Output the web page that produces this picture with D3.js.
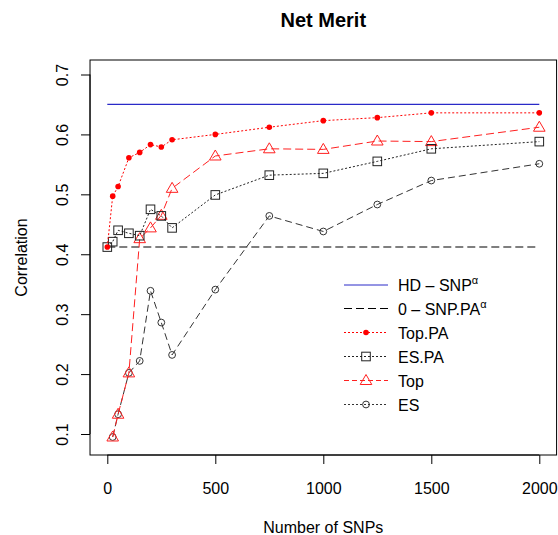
<!DOCTYPE html>
<html>
<head>
<meta charset="utf-8">
<script src="https://cdn.jsdelivr.net/npm/d3@7"></script>
<style>
  body { margin: 0; background: #fff; }
  text { font-family: "Liberation Sans", Arial, sans-serif; }
</style>
</head>
<body>
<script>
// data
const snps = [0, 25, 50, 100, 150, 200, 250, 300, 500, 750, 1000, 1250, 1500, 2000];
const snpsNoZero = snps.slice(1);
const hdSnp = 0.650;
const zeroSnpPA = 0.412;
const topPA = [0.412, 0.497, 0.513, 0.561, 0.570, 0.583, 0.579, 0.591, 0.600, 0.612, 0.623, 0.628, 0.636, 0.636];
const esPA = [0.412, 0.421, 0.440, 0.435, 0.431, 0.475, 0.464, 0.444, 0.499, 0.532, 0.535, 0.555, 0.576, 0.588];
const topSel = [0.095, 0.133, 0.202, 0.426, 0.444, 0.465, 0.510, 0.564, 0.576, 0.575, 0.589, 0.588, 0.612];
const esSel = [0.095, 0.133, 0.202, 0.222, 0.339, 0.286, 0.232, 0.341, 0.464, 0.438, 0.483, 0.523, 0.551];
const xTicks = [0, 500, 1000, 1500, 2000];
const yTicks = [0.1, 0.2, 0.3, 0.4, 0.5, 0.6, 0.7];

const W = 558, H = 535;
const svg = d3.select("body").append("svg")
  .attr("width", W).attr("height", H);

const x = d3.scaleLinear().domain([0, 2000]).range([107.3, 539.3]);
const y = d3.scaleLinear().domain([0.1, 0.7]).range([434, 74.5]);

const box = { x0: x(-80), x1: x(2080), y0: 60, y1: 455 };

// series
const line = d3.line().x(d => x(d[0])).y(d => y(d[1]));

svg.append("path")
  .attr("d", line([[0, hdSnp], [2000, hdSnp]]))
  .attr("stroke", "#2a2ac8").attr("fill", "none").attr("stroke-width", 1.2);

svg.append("path")
  .attr("d", line([[0, zeroSnpPA], [2000, zeroSnpPA]]))
  .attr("stroke", "#000").attr("fill", "none").attr("stroke-width", 1.1)
  .attr("stroke-dasharray", "8,4");

const series = [
  { name: "ES", xs: snpsNoZero, ys: esSel, color: "#333", dash: "7,4", shape: "circle" },
  { name: "Top", xs: snpsNoZero, ys: topSel, color: "#ff2020", dash: "8,4", shape: "triangle" },
  { name: "ES.PA", xs: snps, ys: esPA, color: "#222", dash: "2,2", shape: "square" },
  { name: "Top.PA", xs: snps, ys: topPA, color: "#ff0000", dash: "2,2", shape: "dot" },
];

function marker(g, shape, color) {
  if (shape === "circle") {
    g.append("circle").attr("r", 3.4).attr("fill", "none").attr("stroke", color).attr("stroke-width", 1);
  } else if (shape === "triangle") {
    g.append("path").attr("d", "M0,-6L5.8,4L-5.8,4Z")
      .attr("fill", "none").attr("stroke", color).attr("stroke-width", 1);
  } else if (shape === "square") {
    g.append("rect").attr("x", -4.3).attr("y", -4.3).attr("width", 8.6).attr("height", 8.6)
      .attr("fill", "none").attr("stroke", color).attr("stroke-width", 1);
  } else {
    g.append("circle").attr("r", 2.8).attr("fill", color);
  }
}

series.forEach(s => {
  const pts = s.xs.map((v, i) => [v, s.ys[i]]);
  svg.append("path").attr("d", line(pts))
    .attr("stroke", s.color).attr("fill", "none").attr("stroke-width", 1)
    .attr("stroke-dasharray", s.dash);
  pts.forEach(p => {
    const g = svg.append("g").attr("transform", `translate(${x(p[0])},${y(p[1])})`);
    marker(g, s.shape, s.color);
  });
});

// box
svg.append("rect")
  .attr("x", box.x0).attr("y", box.y0)
  .attr("width", box.x1 - box.x0).attr("height", box.y1 - box.y0)
  .attr("fill", "none").attr("stroke", "#000").attr("stroke-width", 1);

// axes
const xAxis = svg.append("g").attr("transform", `translate(0,${box.y1})`)
  .call(d3.axisBottom(x).tickValues(xTicks).tickSize(9).tickPadding(19).tickFormat(d3.format("d")));
xAxis.select(".domain").attr("d", `M${x(0)},0H${x(2000)}`);
xAxis.selectAll("text").attr("font-size", 16).attr("fill", "#000")
  .style("font-family", "'Liberation Sans', Arial, sans-serif");

const yAxis = svg.append("g").attr("transform", `translate(${box.x0},0)`)
  .call(d3.axisLeft(y).tickValues(yTicks).tickSize(9).tickFormat(d3.format(".1f")));
yAxis.select(".domain").attr("d", `M0,${y(0.1)}V${y(0.7)}`);
yAxis.selectAll(".tick text")
  .attr("font-size", 16).attr("fill", "#000")
  .style("font-family", "'Liberation Sans', Arial, sans-serif")
  .attr("text-anchor", "middle")
  .attr("x", 0).attr("y", 0).attr("dy", null)
  .attr("transform", "translate(-22,0) rotate(-90)");

// titles
svg.append("text").attr("x", (box.x0 + box.x1) / 2).attr("y", 27)
  .attr("text-anchor", "middle").attr("font-size", 20).attr("font-weight", "bold")
  .text("Net Merit");
svg.append("text").attr("x", (box.x0 + box.x1) / 2).attr("y", 533)
  .attr("text-anchor", "middle").attr("font-size", 16)
  .text("Number of SNPs");
svg.append("text").attr("transform", `translate(27,${(box.y0 + box.y1) / 2}) rotate(-90)`)
  .attr("text-anchor", "middle").attr("font-size", 16)
  .text("Correlation");

// legend
const legendItems = [
  { label: "HD \u2013 SNP", sup: "\u03b1", color: "#2a2ac8", dash: null, shape: null },
  { label: "0 \u2013 SNP.PA", sup: "\u03b1", color: "#000", dash: "8,4", shape: null },
  { label: "Top.PA", color: "#ff0000", dash: "2,2", shape: "dot" },
  { label: "ES.PA", color: "#222", dash: "2,2", shape: "square" },
  { label: "Top", color: "#ff2020", dash: "5,3", shape: "triangle" },
  { label: "ES", color: "#333", dash: "2,2", shape: "circle" },
];
const legendY = [285, 308.5, 332.5, 356.5, 380.5, 404.5];
legendItems.forEach((it, i) => {
  const g = svg.append("g").attr("transform", `translate(344,${legendY[i]})`);
  g.append("line").attr("x1", 0).attr("x2", 44).attr("y1", 0).attr("y2", 0)
    .attr("stroke", it.color).attr("stroke-width", 1)
    .attr("stroke-dasharray", it.dash);
  if (it.shape) {
    const m = g.append("g").attr("transform", "translate(22,0)");
    marker(m, it.shape, it.color);
  }
  const t = g.append("text").attr("x", 54).attr("y", 6).attr("font-size", 16).text(it.label);
  if (it.sup) {
    t.append("tspan").attr("font-size", 11).attr("dy", -7).text(it.sup);
  }
});
</script>
</body>
</html>
